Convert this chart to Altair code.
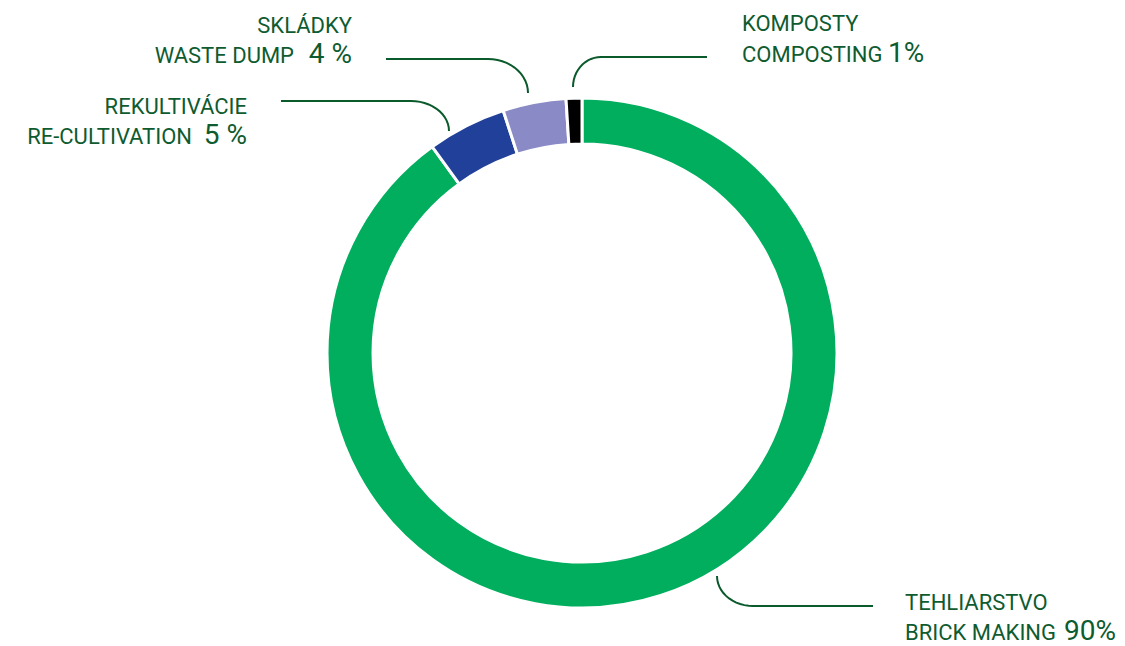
import altair as alt
import numpy as np
import pandas as pd

# ---- data ----
cat_sk = ["TEHLIARSTVO", "REKULTIVÁCIE", "SKLÁDKY", "KOMPOSTY"]
cat_en = ["BRICK MAKING", "RE-CULTIVATION", "WASTE DUMP", "COMPOSTING"]
values = [90, 5, 4, 1]
pct_labels = ["90%", "5 %", "4 %", "1%"]
colors = ["#00AE5E", "#21409A", "#8A8AC6", "#000000"]

TEXT_COLOR = "#0F5B30"
LINE_COLOR = "#0B5A2C"
FONT = "Roboto"

pie = pd.DataFrame({"cat": cat_sk, "value": values, "order": list(range(len(values)))})

# ---- annotation layout (reference pixel coordinates) ----
# name: (align, x_line1, y_line1, x_sub, y_line2, x_pct)
label_layout = {
    "TEHLIARSTVO": ("left", 905, 610, 905, 640, 1064),
    "REKULTIVÁCIE": ("right", 247, 114, 192, 144, 247),
    "SKLÁDKY": ("right", 352, 33, 294, 63, 352),
    "KOMPOSTY": ("left", 742, 31, 742, 62, 888),
}

rows = []
for sk, en, pct in zip(cat_sk, cat_en, pct_labels):
    al, x1, y1, xs_, y2, xp = label_layout[sk]
    rows.append({"text": sk, "x": x1, "y": y1, "size": "s", "align": al})
    rows.append({"text": en, "x": xs_, "y": y2, "size": "s", "align": al})
    rows.append({"text": pct, "x": xp, "y": y2, "size": "b", "align": al})
labels = pd.DataFrame(rows)

# leader lines: straight part + quarter-ellipse corner
def leader(name, straight_end, center, rx, ry, sx, sy):
    t = np.linspace(0, np.pi / 2, 14)
    cx, cy = center
    curve = [(cx + sx * rx * np.sin(a), cy + sy * ry * np.cos(a)) for a in t]
    pts = [straight_end] + curve
    return [{"name": name, "i": k, "x": p[0], "y": p[1]} for k, p in enumerate(pts)]

lead_rows = []
lead_rows += leader("SKLÁDKY", (386, 59), (488, 93), 40, 34, 1, -1)
lead_rows += leader("KOMPOSTY", (707, 57), (601, 87), 28, 30, -1, -1)
lead_rows += leader("REKULTIVÁCIE", (281, 101), (411, 131), 38, 30, 1, -1)
t = np.linspace(0, np.pi / 2, 14)
pts = [(753 - 36 * np.cos(a), 576 + 30 * np.sin(a)) for a in t] + [(873, 606)]
lead_rows += [{"name": "TEHLIARSTVO", "i": k, "x": p[0], "y": p[1]} for k, p in enumerate(pts)]
leads = pd.DataFrame(lead_rows)

W, H = 1109, 638
xs = alt.Scale(domain=[8, 8 + W])
ys = alt.Scale(domain=[8, 8 + H], reverse=True)

ring = alt.Chart(pie).mark_arc(
    innerRadius=209, outerRadius=255, stroke="white", strokeWidth=3
).encode(
    theta=alt.Theta("value:Q", stack=True),
    color=alt.Color("cat:N", scale=alt.Scale(domain=cat_sk, range=colors), legend=None),
    order=alt.Order("order:Q"),
    x=alt.value(582 - 8),
    y=alt.value(353 - 8),
)

lines = alt.Chart(leads).mark_line(color=LINE_COLOR, strokeWidth=2).encode(
    x=alt.X("x:Q", scale=xs, axis=None),
    y=alt.Y("y:Q", scale=ys, axis=None),
    detail="name:N",
    order="i:Q",
)

def text_layer(align, size_key, font_size):
    return alt.Chart(labels).transform_filter(
        (alt.datum.align == align) & (alt.datum.size == size_key)
    ).mark_text(
        align=align, baseline="alphabetic", font=FONT, fontSize=font_size,
        color=TEXT_COLOR, fontWeight="normal"
    ).encode(
        x=alt.X("x:Q", scale=xs, axis=None),
        y=alt.Y("y:Q", scale=ys, axis=None),
        text="text:N",
    )

chart = alt.layer(
    ring,
    lines,
    text_layer("left", "s", 22),
    text_layer("left", "b", 28),
    text_layer("right", "s", 22),
    text_layer("right", "b", 28),
).properties(
    width=W, height=H, padding=0, autosize=alt.AutoSizeParams(type="none")
).configure_view(stroke=None)

chart.save("out.html", embed_options={"renderer": "svg", "actions": False})
